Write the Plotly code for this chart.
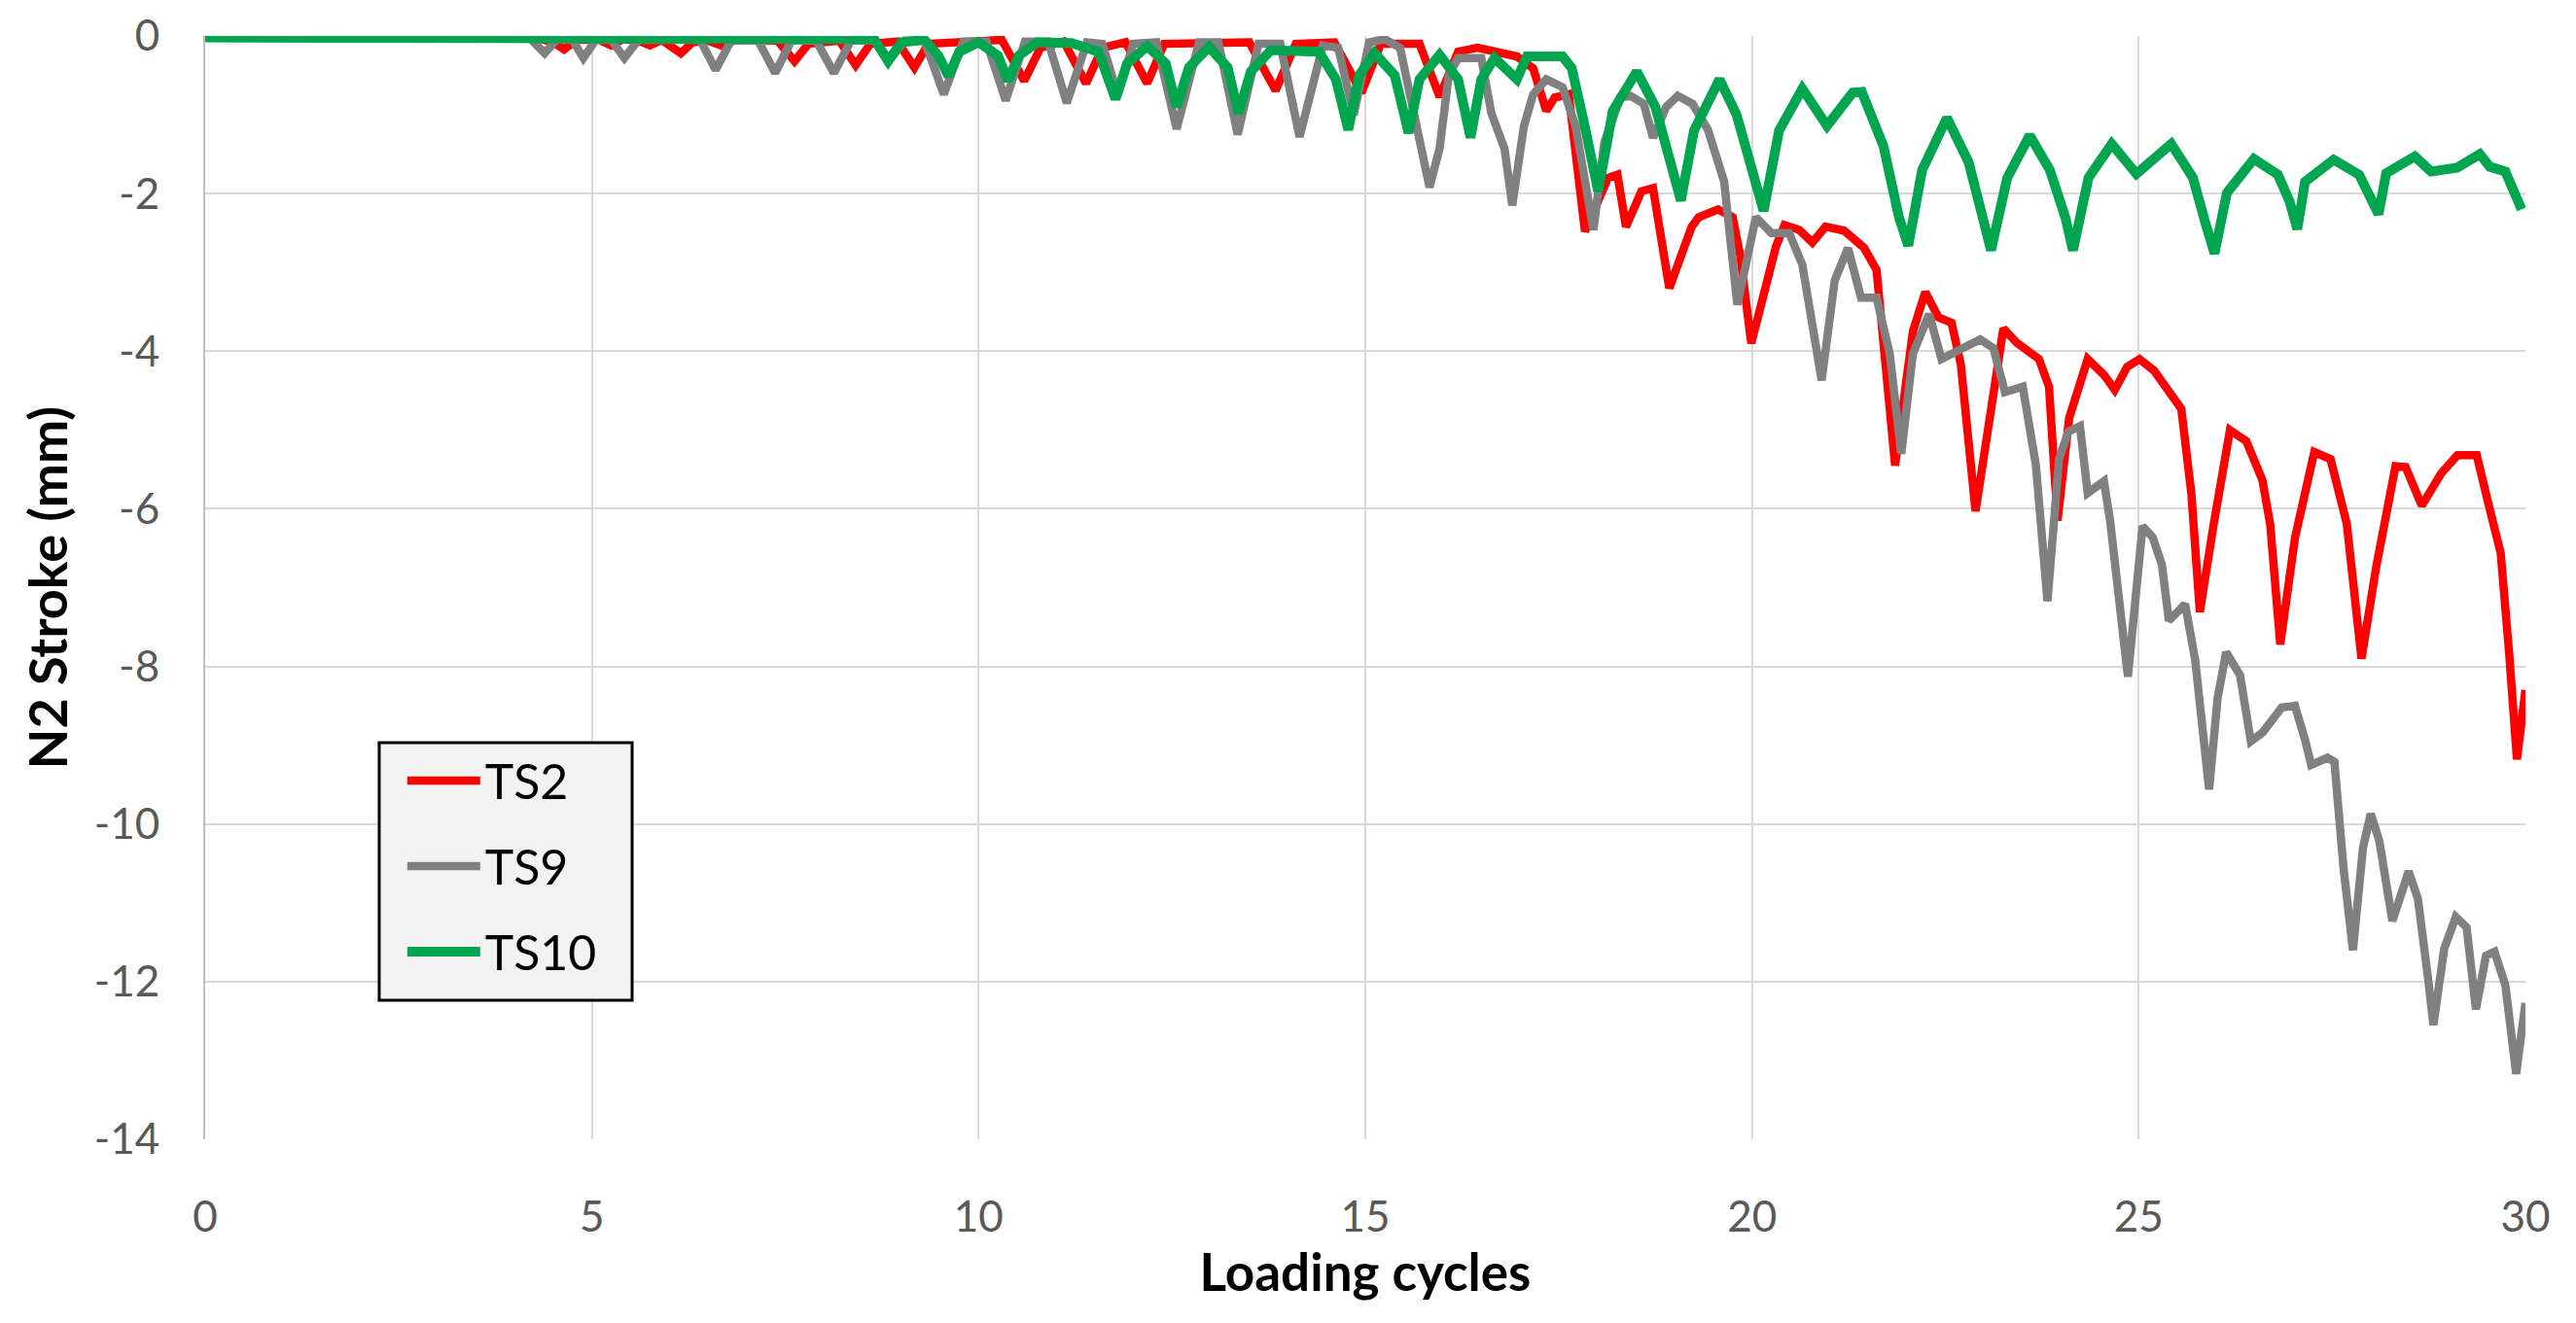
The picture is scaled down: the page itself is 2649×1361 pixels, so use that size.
import plotly.graph_objects as go

# ---- data ----
ts2_x = [0, 4.3, 4.5, 4.64, 4.8, 5.1, 5.25, 5.4, 5.6, 5.75, 5.9, 6.0, 6.15, 6.3, 6.5, 6.7, 6.85,
         7.4, 7.62, 7.8, 8.2, 8.41, 8.6, 8.95, 9.17, 9.35, 10.3, 10.59, 10.8, 11.1, 11.39, 11.6,
         11.9, 12.18, 12.4, 13.5, 13.84, 14.1, 14.6, 14.95, 15.2, 15.7, 15.96, 16.2, 16.45, 16.96,
         17.17, 17.34, 17.45, 17.63, 17.84, 18.14, 18.26, 18.37, 18.50, 18.57, 18.72, 18.93, 19.22,
         19.31, 19.56, 19.75, 19.85, 19.99, 20.31, 20.42, 20.61, 20.78, 20.95, 21.19, 21.45, 21.61,
         21.85, 22.08, 22.24, 22.41, 22.58, 22.70, 22.89, 23.12, 23.25, 23.42, 23.71, 23.84, 23.95,
         24.1, 24.34, 24.55, 24.69, 24.85, 25.01, 25.2, 25.38, 25.55, 25.68, 25.79, 25.97, 26.18,
         26.39, 26.60, 26.70, 26.83, 27.02, 27.27, 27.48, 27.69, 27.88, 28.07, 28.32, 28.45, 28.66,
         28.91, 29.12, 29.37, 29.54, 29.68, 29.79, 29.89, 30.0]
ts2_y = [-0.02, -0.03, -0.08, -0.17, -0.05, -0.05, -0.12, -0.04, -0.06, -0.12, -0.05, -0.12, -0.22,
         -0.08, -0.06, -0.13, -0.05, -0.06, -0.32, -0.10, -0.06, -0.37, -0.10, -0.07, -0.40, -0.10,
         -0.05, -0.57, -0.15, -0.07, -0.60, -0.15, -0.08, -0.60, -0.10, -0.08, -0.69, -0.10, -0.08,
         -0.72, -0.10, -0.10, -0.77, -0.20, -0.15, -0.26, -0.41, -0.95, -0.78, -0.74, -2.48, -1.80,
         -1.76, -2.42, -2.10, -1.97, -1.93, -3.20, -2.42, -2.30, -2.20, -2.30, -2.80, -3.90, -2.67,
         -2.40, -2.46, -2.62, -2.42, -2.47, -2.69, -2.97, -5.45, -3.75, -3.25, -3.57, -3.64, -4.17,
         -6.03, -4.59, -3.71, -3.89, -4.10, -4.45, -6.15, -4.85, -4.10, -4.30, -4.49, -4.20, -4.10,
         -4.25, -4.49, -4.73, -5.80, -7.31, -6.19, -5.00, -5.14, -5.64, -6.20, -7.72, -6.37, -5.28,
         -5.37, -6.19, -7.90, -6.74, -5.46, -5.47, -5.96, -5.55, -5.32, -5.32, -6.01, -6.56, -7.84,
         -9.18, -8.30]

ts9_x = [0, 4.2, 4.39, 4.55, 4.75, 4.89, 5.05, 5.25, 5.42, 5.6, 6.4, 6.60, 6.8, 7.15, 7.37, 7.58,
         7.9, 8.13, 8.35, 8.65, 8.85, 9.05, 9.3, 9.55, 9.8, 10.1, 10.35, 10.6, 10.9, 11.14, 11.4,
         11.6, 11.8, 12.0, 12.3, 12.56, 12.85, 13.1, 13.35, 13.62, 13.9, 14.15, 14.45, 14.65, 14.85,
         15.05, 15.25, 15.45, 15.83, 15.96, 16.08, 16.2, 16.5, 16.63, 16.80, 16.90, 17.05, 17.17,
         17.34, 17.55, 17.72, 17.95, 18.09, 18.30, 18.43, 18.60, 18.72, 18.89, 19.04, 19.23, 19.43,
         19.64, 19.81, 20.05, 20.25, 20.48, 20.65, 20.90, 21.07, 21.24, 21.41, 21.61, 21.78, 21.93,
         22.08, 22.29, 22.45, 22.66, 22.95, 23.12, 23.27, 23.50, 23.67, 23.82, 23.97, 24.09, 24.24,
         24.34, 24.55, 24.63, 24.86, 25.05, 25.18, 25.30, 25.39, 25.60, 25.73, 25.91, 26.02, 26.13,
         26.31, 26.45, 26.60, 26.85, 27.02, 27.15, 27.23, 27.44, 27.53, 27.65, 27.77, 27.90, 28.00,
         28.11, 28.28, 28.49, 28.61, 28.74, 28.81, 28.95, 29.10, 29.24, 29.36, 29.49, 29.60, 29.74,
         29.88, 30.0]
ts9_y = [-0.02, -0.03, -0.22, -0.04, -0.05, -0.28, -0.05, -0.05, -0.28, -0.05, -0.05, -0.43, -0.06,
         -0.06, -0.47, -0.06, -0.06, -0.47, -0.06, -0.06, -0.30, -0.06, -0.06, -0.74, -0.07, -0.07,
         -0.82, -0.07, -0.07, -0.85, -0.08, -0.10, -0.75, -0.10, -0.08, -1.18, -0.08, -0.08, -1.25,
         -0.10, -0.10, -1.28, -0.12, -0.15, -1.00, -0.08, -0.04, -0.15, -1.92, -1.43, -0.49, -0.28,
         -0.28, -0.98, -1.43, -2.15, -1.15, -0.74, -0.55, -0.65, -1.15, -2.46, -1.35, -0.78, -0.76,
         -0.86, -1.29, -0.90, -0.76, -0.86, -1.19, -1.85, -3.41, -2.30, -2.50, -2.50, -2.90, -4.37,
         -3.10, -2.69, -3.32, -3.32, -4.03, -5.30, -4.03, -3.53, -4.10, -3.99, -3.85, -3.96, -4.52,
         -4.45, -5.44, -7.17, -5.37, -5.02, -4.95, -5.80, -5.65, -6.15, -8.13, -6.22, -6.36, -6.71,
         -7.42, -7.21, -7.92, -9.56, -8.40, -7.82, -8.11, -8.95, -8.84, -8.52, -8.50, -8.93, -9.25,
         -9.16, -9.21, -10.58, -11.60, -10.30, -9.87, -10.21, -11.23, -10.60, -10.95, -11.95, -12.55,
         -11.58, -11.18, -11.31, -12.35, -11.67, -11.62, -12.04, -13.17, -12.27]

ts10_x = [0, 3, 6, 8.65, 8.83, 9.0, 9.3, 9.48, 9.61, 9.75, 10.0, 10.25, 10.38, 10.52, 10.76, 11.2,
          11.55, 11.77, 11.92, 12.18, 12.42, 12.56, 12.72, 12.98, 13.22, 13.36, 13.52, 13.78, 14.1,
          14.4, 14.62, 14.78, 14.92, 15.12, 15.38, 15.56, 15.7, 15.96, 16.2, 16.36, 16.5, 16.67,
          16.96, 17.09, 17.55, 17.67, 17.85, 18.01, 18.2, 18.51, 18.75, 18.95, 19.08, 19.25, 19.58,
          19.8, 20.0, 20.15, 20.35, 20.65, 20.97, 21.3, 21.42, 21.7, 21.9, 22.02, 22.2, 22.52, 22.8,
          22.97, 23.09, 23.3, 23.59, 23.85, 24.05, 24.15, 24.35, 24.65, 24.97, 25.42, 25.7, 25.87,
          25.98, 26.14, 26.49, 26.8, 26.95, 27.05, 27.15, 27.52, 27.85, 28.1, 28.2, 28.57, 28.78,
          29.12, 29.41, 29.54, 29.74, 29.95]
ts10_y = [-0.02, -0.03, -0.03, -0.04, -0.32, -0.08, -0.05, -0.25, -0.51, -0.20, -0.08, -0.25, -0.57,
          -0.25, -0.08, -0.09, -0.20, -0.80, -0.35, -0.13, -0.35, -0.90, -0.40, -0.14, -0.40, -0.98,
          -0.45, -0.18, -0.19, -0.20, -0.55, -1.19, -0.50, -0.22, -0.50, -1.23, -0.55, -0.24, -0.55,
          -1.29, -0.55, -0.28, -0.55, -0.26, -0.26, -0.41, -1.20, -1.97, -0.95, -0.45, -0.90, -1.60,
          -2.09, -1.20, -0.55, -1.00, -1.70, -2.22, -1.20, -0.67, -1.14, -0.72, -0.71, -1.40, -2.30,
          -2.66, -1.70, -1.04, -1.60, -2.30, -2.72, -1.80, -1.26, -1.70, -2.30, -2.72, -1.80, -1.37,
          -1.75, -1.37, -1.80, -2.40, -2.76, -1.99, -1.56, -1.76, -2.10, -2.45, -1.85, -1.57, -1.76,
          -2.26, -1.74, -1.53, -1.72, -1.67, -1.50, -1.66, -1.72, -2.20]

series_names = ["TS2", "TS9", "TS10"]
x_ticks = [0, 5, 10, 15, 20, 25, 30]
y_ticks = [0, -2, -4, -6, -8, -10, -12, -14]

FONT = "Lato"
colors = ["#FF0000", "#808080", "#00A550"]
widths = [8.5, 8.5, 10]

fig = go.Figure()
for i, (xs, ys) in enumerate([(ts2_x, ts2_y), (ts9_x, ts9_y), (ts10_x, ts10_y)]):
    fig.add_trace(go.Scatter(
        x=xs, y=ys, mode="lines", name=series_names[i],
        legendgroup=series_names[i],
        line=dict(color=colors[i], width=widths[i], shape="linear"),
    ))

# legend frame (grey box with black border)
fig.add_shape(type="rect", xref="paper", yref="paper",
              x0=0.0750, x1=0.1840, y0=0.1260, y1=0.3595,
              fillcolor="#F2F2F2", line=dict(color="#000000", width=3), layer="above")

fig.update_layout(
    width=2649, height=1361,
    margin=dict(l=211, r=52, t=37, b=189, autoexpand=False),
    paper_bgcolor="white", plot_bgcolor="white",
    font=dict(family=FONT, color="#595959"),
    showlegend=True,
    legend=dict(
        x=0.085, y=0.3595, xanchor="left", yanchor="top",
        bgcolor="rgba(0,0,0,0)", borderwidth=0,
        font=dict(family=FONT, size=50, color="#000000"),
        tracegroupgap=20, itemwidth=75, traceorder="grouped",
    ),
    xaxis=dict(
        range=[0, 30], tickvals=x_ticks, ticktext=[str(v) for v in x_ticks],
        showgrid=True, gridcolor="#D9D9D9", gridwidth=2,
        zeroline=False, showline=False, ticks="",
        tickfont=dict(family=FONT, size=44, color="#595959"),
        ticklabelstandoff=50,
        title=dict(text="<b>Loading cycles</b>", font=dict(family=FONT, size=53, color="#000000"), standoff=12),
    ),
    yaxis=dict(
        range=[-14, 0], tickvals=y_ticks, ticktext=[str(v) for v in y_ticks],
        showgrid=True, gridcolor="#D9D9D9", gridwidth=2,
        zeroline=False, showline=True, linecolor="#BFBFBF", linewidth=2, ticks="",
        tickfont=dict(family=FONT, size=44, color="#595959"),
        ticklabelstandoff=36,
        title=dict(text="<b>N2 Stroke (mm)</b>", font=dict(family=FONT, size=54, color="#000000"), standoff=10),
    ),
)

fig.write_html("out.html", config={"responsive": False, "displayModeBar": False},
               post_script="document.body.style.margin='0';document.body.style.overflow='hidden';")
